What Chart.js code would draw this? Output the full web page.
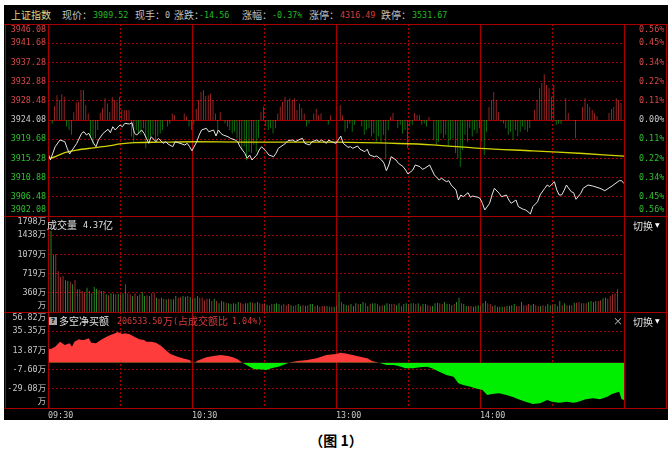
<!DOCTYPE html>
<html>
<head>
<meta charset="utf-8">
<script src="https://cdn.jsdelivr.net/npm/chart.js@4.4.1/dist/chart.umd.min.js"></script>
<style>
  html, body { margin: 0; padding: 0; background: #fff; }
  body { position: relative; width: 672px; height: 462px; overflow: hidden; }
  #board { position: absolute; left: 4px; top: 5px; width: 664px; height: 415px; background: #000; }
  #wrap { position: absolute; left: 4px; top: 24px; width: 664px; height: 396px; }
  .t { position: absolute; white-space: nowrap; height: 12px; line-height: 12px; color: #c0c0c0; }
  .c { font-family: "Noto Sans CJK SC"; font-size: 10px; }
  .n { font-family: "DejaVu Sans Mono"; font-size: 8.4px; }
  .g { color: #22bb22; }
  .r { color: #d83c3c; }
  .y { color: #dcdc8c; }
  .w { color: #e0e0e0; }
  .tri { font-family: "DejaVu Sans"; font-size: 6px; color: #fff; }
  .q { position: absolute; width: 8px; height: 8px; background: #a8a8a8; color: #000;
       font: bold 7px/8px "DejaVu Sans"; text-align: center; }
  #cap { position: absolute; left: 0; top: 430px; width: 672px; text-align: center;
         font: bold 14px "Noto Sans CJK SC"; color: #000; }
</style>
</head>
<body>
<div id="board"></div>
<div id="wrap"><canvas id="chart"></canvas></div>

<!-- header row -->
<div class="t c y" style="left:11px;top:9px">上证指数</div>
<div class="t c" style="left:62px;top:9px">现价：</div>
<div class="t n g" style="left:93px;top:9px">3909.52</div>
<div class="t c" style="left:135px;top:9px">现手：</div>
<div class="t n" style="left:165px;top:9px">0</div>
<div class="t c" style="left:174px;top:9px">涨跌：</div>
<div class="t n g" style="left:199px;top:9px">-14.56</div>
<div class="t c" style="left:242px;top:9px">涨幅：</div>
<div class="t n g" style="left:272px;top:9px">-0.37%</div>
<div class="t c" style="left:309px;top:9px">涨停：</div>
<div class="t n r" style="left:340px;top:9px">4316.49</div>
<div class="t c" style="left:381px;top:9px">跌停：</div>
<div class="t n g" style="left:412px;top:9px">3531.67</div>

<!-- volume panel titles -->
<div class="t c w" style="left:47px;top:219px">成交量</div>
<div class="t n w" style="left:83px;top:219px">4.37</div>
<div class="t c w" style="left:103px;top:219px">亿</div>
<div class="t c w" style="left:633px;top:220px">切换</div>
<div class="t tri" style="left:655px;top:219px">▼</div>

<!-- net buy panel titles -->
<div class="q" style="left:49px;top:317px">?</div>
<div class="t c w" style="left:59px;top:315px">多空净买额</div>
<div class="t n r" style="left:117px;top:315px">206533.50</div>
<div class="t c r" style="left:163px;top:315px">万</div>
<div class="t n r" style="left:173px;top:315px">(</div>
<div class="t c r" style="left:178px;top:315px">占成交额比</div>
<div class="t n r" style="left:232px;top:315px">1.04%)</div>
<div class="t c" style="left:613px;top:315px">×</div>
<div class="t c w" style="left:633px;top:316px">切换</div>
<div class="t tri" style="left:655px;top:315px">▼</div>

<div id="cap">（图 1）</div>

<script>
// time axis (minutes from 09:30, lunch break removed)
const timeTicks = [0, 60, 120, 180];
const timeLabels = ['09:30', '10:30', '13:00', '14:00'];

const prevClose = 3924.08;
const priceTicks = [3902.08, 3906.48, 3910.88, 3915.28, 3919.68, 3924.08, 3928.48, 3932.88, 3937.28, 3941.68, 3946.08];
const volTicks = [0, 359.6, 719.2, 1078.8, 1438.4, 1798];
const volTickLabels = ['万', '360万', '719万', '1079万', '1438万', '1798万'];
const netTicks = [-50.55, -29.08, -7.60, 13.87, 35.35, 56.82];
const netTickLabels = ['万', '-29.08万', '-7.60万', '13.87万', '35.35万', '56.82万'];

// price line
const priceMin = [0,1,3,5,7,8,9,12,14,15,16,17,19,20,21,23,25,26,27,28,30,31,32,34,35,36,37,39,40,41,42,43,45,46,48,49,50,52,53,55,57,58,59,
  60,62,63,64,66,67,69,70,71,72,73,75,76,78,79,80,82,83,84,85,87,88,89,91,92,94,95,96,98,99,100,102,103,105,106,107,109,110,112,113,114,116,117,118,
  120,122,123,125,126,127,129,130,132,133,134,136,137,139,140,141,142,143,145,146,148,149,150,152,153,155,156,157,159,160,161,163,164,166,167,168,170,171,172,173,175,176,177,179,
  180,181,182,184,185,186,188,189,191,192,193,195,196,198,199,200,201,202,204,205,207,208,209,211,212,213,214,215,216,218,219,220,222,223,225,227,230,232,235,238,239,240];
const priceVal = [3916.45,3914.91,3917.96,3919.50,3919.11,3917.59,3916.29,3918.74,3921.03,3921.40,3920.64,3921.03,3918.74,3917.96,3919.50,3921.03,3921.95,3921.17,3922.54,3921.79,
  3922.93,3922.54,3923.32,3923.16,3923.46,3921.03,3920.64,3921.79,3921.03,3919.89,3918.74,3920.25,3919.11,3919.89,3918.74,3919.11,3918.58,3917.96,3919.11,3918.74,3918.35,3918.74,3917.96,
  3917.04,3919.11,3920.64,3921.79,3922.18,3921.40,3921.79,3920.41,3921.79,3921.03,3920.64,3920.25,3919.89,3919.50,3919.11,3917.96,3916.45,3915.30,3916.06,3914.91,3916.06,3917.20,3917.96,
  3916.82,3916.06,3915.67,3916.45,3917.59,3918.35,3918.74,3919.34,3919.50,3919.11,3919.66,3919.89,3918.74,3918.35,3919.11,3919.50,3919.11,3919.50,3918.74,3919.50,3919.11,
  3918.74,3920.41,3918.74,3917.82,3917.96,3917.59,3918.12,3917.37,3916.82,3917.37,3916.06,3915.67,3915.83,3914.91,3914.16,3912.46,3913.77,3915.67,3914.91,3914.16,3913.38,3912.62,
  3911.70,3912.62,3913.77,3913.38,3912.78,3913.01,3913.77,3912.62,3911.48,3910.33,3910.72,3909.94,3910.17,3909.18,3908.04,3905.75,3906.89,3906.50,3907.42,3906.37,3906.66,3906.37,
  3906.14,3904.99,3903.45,3904.99,3906.89,3908.43,3907.28,3906.50,3906.89,3905.75,3904.99,3905.75,3904.21,3903.62,3903.45,3903.07,3902.54,3904.21,3905.36,3906.89,3908.43,3909.18,
  3908.79,3909.94,3908.04,3906.89,3906.89,3907.88,3909.18,3907.65,3907.42,3905.91,3907.28,3908.43,3909.18,3908.95,3908.43,3907.88,3908.95,3910.17,3910.17,3909.52];

// average price line
const avgMin = [0, 1, 7, 12, 19, 26, 30, 36, 47, 61, 82, 120, 146, 160, 180, 202, 223, 240];
const avgVal = [3916.0, 3915.3, 3916.6, 3917.2, 3917.7, 3918.2, 3918.6, 3918.9, 3919.0, 3919.1, 3919.0, 3919.0, 3918.7, 3918.4, 3917.6, 3917.0, 3916.4, 3915.8];

// buy/sell strength bars around previous close, per minute (index points, 0 = none)
const strength = [
  0, 0, -0.8, 3.2, 5.7, 4.6, 5.9, 5.3, -1.5, -2.3,
  -3.4, 1.8, 4.0, 4.2, 6.9, 6.9, 3.4, 1.5, -3.8, -5.7,
  -4.2, -2.3, 1.6, 2.7, 5.0, 3.8, 1.9, 5.3, 4.6, 4.2,
  5.3, 2.3, 2.3, 2.3, 2.3, -3.8, -5.3, -2.3, -3.1, -3.4,
  -1.9, -6.5, -4.6, -3.8, -3.4, -5.0, -3.8, -3.1, -2.3, 0,
  -1.5, -0.8, 1.5, 1.1, 0, 0, 0, 1.5, 0.8, -1.5,
  -2.3, -1.1, 2.5, 4.6, 6.5, 6.9, 5.5, 5.7, 6.1, 4.6,
  1.5, -3.1, 1.8, 0, -0.8, -1.5, -2.3, -3.1, -2.7, -4.2,
  -5.3, -6.9, -6.1, -9.2, -7.3, -7.6, -5.7, -7.3, -4.2, 1.8,
  3.1, -1.5, -2.3, -1.9, -3.1, -1.9, 1.5, 3.1, 4.2, 5.3,
  4.6, 5.0, 4.6, 5.0, 2.3, 3.8, 2.7, 1.5, -1.5, -0.8,
  0, 1.5, 2.5, 1.1, 1.5, 0, 0, -1.1, 1.1, 0,
  0, 0, 3.4, 1.1, -2.7, -1.9, -0.8, -2.7, -1.1, 0,
  0, -1.5, -3.4, -2.3, -1.9, -3.8, -3.1, -5.0, -3.8, -5.3,
  -3.4, -9.0, -2.3, 0.7, 1.6, 0, -1.9, -1.1, -3.1, -2.3,
  -6.5, -1.5, -1.1, 1.6, 1.1, 1.1, -1.1, -0.8, -1.5, 0.7,
  0, -4.6, -5.7, -5.0, -3.1, -4.2, -3.4, -6.1, -4.6, -4.2,
  -7.6, -8.8, -10.7, -6.9, -3.4, -5.0, -1.9, -3.8, -2.3, -3.1,
  -1.9, -5.0, -8.0, -2.7, 3.0, 4.6, 6.4, 4.6, 1.8, -0.4,
  -0.8, -1.9, -3.4, -2.7, -4.6, -2.3, -3.8, -2.7, -1.5, -2.3,
  -2.7, -1.9, 0, 2.3, 4.6, 7.3, 8.5, 10.5, 8.0, 7.3,
  5.3, 8.0, -1.1, -0.8, -0.9, 0, 5.0, 1.6, 0, 0,
  -4.2, 0, 0, 3.0, 5.0, 3.7, 3.0, 2.3, 1.6, 0.9,
  0, 0, 0, 0, 1.6, 2.5, 3.0, 5.0, 4.6, 3.9,
  0];

// volume per minute (万) and its up/down colour
const volume = [
  530,1517,1062,1080,768,656,674,593,581,568,
  518,599,425,425,393,362,455,393,350,468,
  437,412,393,393,331,312,350,343,331,343,
  331,350,518,350,331,300,350,300,331,375,
  300,312,300,350,362,268,250,268,250,237,
  250,237,237,300,268,281,300,287,300,281,
  250,268,300,268,268,218,250,250,206,250,
  206,162,206,193,175,162,150,162,156,187,
  175,156,162,162,187,175,162,187,162,150,
  162,137,125,150,150,162,150,125,150,125,
  150,125,112,125,150,112,125,112,125,150,
  150,112,125,100,112,112,112,100,100,100,
  112,
  375,187,150,125,125,150,112,162,150,150,
  187,162,112,150,162,162,150,112,125,125,
  162,150,150,150,125,162,112,150,162,150,
  162,162,150,162,112,150,150,125,112,112,
  162,175,162,150,187,150,150,125,150,187,
  268,162,150,112,112,112,100,112,125,112,
  162,206,162,150,112,125,100,100,100,100,
  112,112,125,150,112,112,187,125,125,150,
  125,150,125,112,112,125,112,150,125,125,
  150,112,206,125,162,125,125,125,175,
  175,187,162,162,162,
  187,206,187,206,206,218,256,268,250,300,331,350,425,25,0,0];
const volDir = ('gggrrrrggr' + 'grrrrrgrgg' + 'grrrgrggrg' + 'rgrrrgrgrg' + 'grgrrgrgrg' + 'rgggrrggrg' +
  'rggrrrrgrg' + 'rgggrggggg' + 'rrgggrggrr' + 'rgrrgggrrr' + 'rgrrggrgrg' + 'grgrrrgrrg' + 'r' +
  'grggrgggrg' + 'grgrggrgrg' + 'grrrggrggr' + 'grrgrggrrg' + 'ggrrggrgrg' + 'grggrrgggr' +
  'ggrrrggggr' + 'ggggrrgrrr' + 'ggrrgrrggr' + 'grgrgrgrg' + 'rrrrr' + 'ggggrrggrrrrrrrr').split('');

// net buy amount (万)
const netMin = [0,1,3,5,7,9,10,11,13,14,15,17,18,20,22,24,26,28,29,31,32,34,36,38,40,41,43,45,47,49,51,54,56,59,60,61,62,63,66,69,72,75,77,79,81,84,86,88,91,93,96,99,
  101,104,108,112,116,120,122,124,127,130,133,135,138,141,144,146,149,152,155,158,160,163,166,169,171,173,176,178,181,183,185,188,191,194,196,199,202,205,208,210,213,216,219,221,224,227,230,233,235,238,239,240];
const netVal = [16.2,15.1,18.0,23.6,19.9,21.8,18.0,23.6,26.3,25.5,25.5,27.4,22.5,21.8,25.5,28.5,31.1,33.0,34.4,32.2,33.0,31.9,29.2,26.3,25.5,23.6,23.6,22.5,19.1,14.3,9.8,6.8,5.0,3.1,0.1,-0.6,2.0,3.1,6.1,7.6,8.7,7.6,6.1,3.9,0,-4.4,-7.3,-7.3,-8.1,-6.2,-4.4,-1.3,
  0.6,2.0,3.1,5.0,8.7,9.8,11.3,10.4,8.7,6.8,5.0,2.0,0,-2.5,-2.5,-3.6,-6.2,-6.2,-5.0,-4.4,-6.2,-9.9,-13.6,-15.5,-22.9,-24.8,-26.7,-28.5,-30.4,-36.0,-34.9,-34.1,-36.0,-38.6,-40.8,-43.5,-46.1,-45.3,-41.6,-43.5,-44.6,-43.5,-44.6,-43.5,-40.8,-39.7,-40.8,-37.9,-34.9,-32.3,-40.8,-41.6];

const RED_TXT = '#d84848', GREEN_TXT = '#2fc02f', GRAY_TXT = '#c8c8c8';
const GRID = '#a80000';
const tickFont = {family: '"DejaVu Sans Mono", "Noto Sans CJK SC"', size: 8.4, lineHeight: 1.4};
const noGrid = {display: false, drawTicks: false};

// put the top/bottom labels inside the panel, like the terminal does
function edgeLabel(text, v, ticks) {
  if (v === ticks[ticks.length - 1]) return ['', text];
  if (v === ticks[0]) return [text, ''];
  return text;
}
function sideColor(v) {
  return v > prevClose ? RED_TXT : (v < prevClose ? GREEN_TXT : GRAY_TXT);
}
function fixedWidth(w) {
  return s => { s.width = w; s.paddingTop = 0; s.paddingBottom = 0; };
}
function useTicks(list) {
  return s => { s.ticks = list.map(v => ({value: v})); };
}

const framePlugin = {
  id: 'frame',
  beforeDatasetsDraw(chart) {
    const {ctx, chartArea: a, scales: s} = chart;
    const px = v => Math.floor(v) + 0.5;
    ctx.save();
    ctx.strokeStyle = GRID;
    ctx.lineWidth = 1;
    const line = (x0, y0, x1, y1, dotted) => {
      ctx.setLineDash(dotted ? [2, 2] : []);
      ctx.beginPath();
      ctx.moveTo(x0, y0);
      ctx.lineTo(x1, y1);
      ctx.stroke();
    };
    [[s.y, priceTicks], [s.yv, volTicks], [s.yn, netTicks]].forEach(([sc, list]) => {
      list.slice(1, -1).forEach(v => {
        const y = px(sc.getPixelForValue(v));
        line(a.left, y, a.right, y, !(sc === s.y && v === prevClose));
      });
    });
    for (let m = 30; m < 240; m += 30) {
      const x = px(s.x.getPixelForValue(m));
      line(x, a.top, x, a.bottom, m % 60 !== 0);
    }
    ctx.restore();
  },
  afterDatasetsDraw(chart) {
    const {ctx, chartArea: a, scales: s} = chart;
    const px = v => Math.floor(v) + 0.5;
    ctx.save();
    ctx.strokeStyle = GRID;
    ctx.lineWidth = 1;
    ctx.setLineDash([]);
    ctx.beginPath();
    [a.top, s.yv.top, s.yn.top, a.bottom].forEach(v => {
      const y = px(v);
      ctx.moveTo(0, y);
      ctx.lineTo(chart.width, y);
    });
    [1, a.left, a.right, chart.width - 2].forEach(v => {
      const x = px(v);
      ctx.moveTo(x, a.top);
      ctx.lineTo(x, a.bottom);
    });
    ctx.stroke();
    ctx.restore();
  }
};

const priceData = priceMin.map((m, i) => ({x: m, y: priceVal[i]}));
const avgData = avgMin.map((m, i) => ({x: m, y: avgVal[i]}));
const strengthData = strength
  .map((v, m) => ({x: m, y: [prevClose, prevClose + v]}))
  .filter(d => d.y[1] !== prevClose);
const volData = volume.map((v, m) => ({x: m, y: v}));
const netData = netMin.map((m, i) => ({x: m, y: netVal[i]}));

new Chart(document.getElementById('chart'), {
  type: 'bar',
  data: {
    datasets: [
      {type: 'line', data: priceData, yAxisID: 'y', borderColor: '#e4e4e4', borderWidth: 1,
       pointRadius: 0, tension: 0},
      {type: 'line', data: avgData, yAxisID: 'y', borderColor: '#d2d200', borderWidth: 1.3,
       pointRadius: 0, tension: 0.3},
      {type: 'bar', data: strengthData, yAxisID: 'y', barPercentage: 0.6, categoryPercentage: 1,
       backgroundColor: ctx => ctx.raw.y[1] > prevClose ? '#cc3030' : '#139413'},
      {type: 'bar', data: volData, yAxisID: 'yv', barPercentage: 0.65, categoryPercentage: 1,
       backgroundColor: ctx => volDir[ctx.raw.x] === 'r' ? '#c43a3a' : '#2fae2f'},
      {type: 'line', data: netData, yAxisID: 'yn', borderWidth: 0, borderColor: 'transparent',
       pointRadius: 0, tension: 0,
       fill: {target: {value: 0}, above: '#ff3c3c', below: '#00ee00'}}
    ]
  },
  options: {
    responsive: true,
    maintainAspectRatio: false,
    animation: false,
    events: [],
    layout: {padding: 0},
    plugins: {legend: {display: false}, tooltip: {enabled: false}},
    scales: {
      x: {
        type: 'linear', min: 0, max: 240, position: 'bottom', offset: false,
        afterBuildTicks: useTicks(timeTicks),
        afterFit: s => { s.height = 12; s.paddingLeft = 0; s.paddingRight = 0; },
        grid: noGrid, border: {display: false},
        ticks: {autoSkip: false, maxRotation: 0, minRotation: 0, align: 'start', padding: 2,
                color: GRAY_TXT, font: tickFont, callback: (v, i) => timeLabels[i]}
      },
      y: {
        position: 'left', stack: 'panels', stackWeight: 2, weight: 3,
        min: priceTicks[0], max: priceTicks[priceTicks.length - 1],
        afterBuildTicks: useTicks(priceTicks), afterFit: fixedWidth(44),
        grid: noGrid, border: {display: false},
        ticks: {autoSkip: false, padding: 2, font: tickFont,
                color: ctx => sideColor(ctx.tick.value),
                callback: v => edgeLabel(v.toFixed(2), v, priceTicks)}
      },
      yv: {
        position: 'left', stack: 'panels', stackWeight: 1, weight: 2,
        min: volTicks[0], max: volTicks[volTicks.length - 1],
        afterBuildTicks: useTicks(volTicks), afterFit: fixedWidth(44),
        grid: noGrid, border: {display: false},
        ticks: {autoSkip: false, padding: 2, font: tickFont, color: GRAY_TXT,
                callback: (v, i) => edgeLabel(volTickLabels[i], v, volTicks)}
      },
      yn: {
        position: 'left', stack: 'panels', stackWeight: 1, weight: 1,
        min: netTicks[0], max: netTicks[netTicks.length - 1],
        afterBuildTicks: useTicks(netTicks), afterFit: fixedWidth(44),
        grid: noGrid, border: {display: false},
        ticks: {autoSkip: false, padding: 2, font: tickFont, color: GRAY_TXT,
                callback: (v, i) => edgeLabel(netTickLabels[i], v, netTicks)}
      },
      // percentage column: same price units, stretched over the full height so only the top half is used
      yp: {
        position: 'right',
        min: priceTicks[10] - 2 * (priceTicks[10] - priceTicks[0]), max: priceTicks[10],
        afterBuildTicks: useTicks(priceTicks), afterFit: fixedWidth(44),
        grid: noGrid, border: {display: false},
        ticks: {autoSkip: false, padding: 15, font: tickFont,
                color: ctx => sideColor(ctx.tick.value),
                callback: v => edgeLabel((Math.abs(v - prevClose) / prevClose * 100).toFixed(2) + '%', v, priceTicks)}
      }
    }
  },
  plugins: [framePlugin]
});
</script>
</body>
</html>
